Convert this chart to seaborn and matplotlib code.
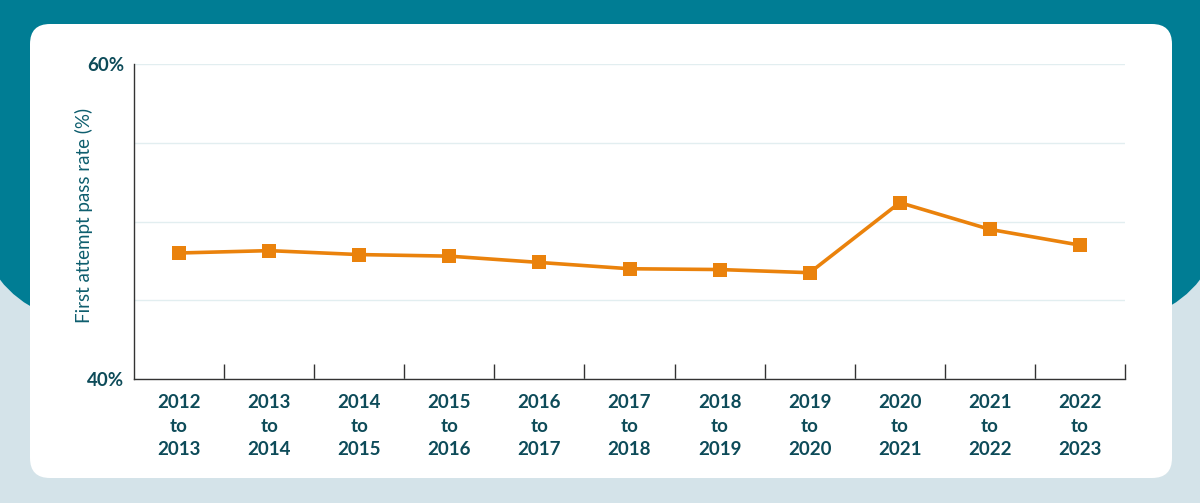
import matplotlib
matplotlib.use("Agg")
import matplotlib.pyplot as plt
from matplotlib.patches import FancyBboxPatch
import numpy as np
import pandas as pd
import seaborn as sns

# data
periods = ["2012\nto\n2013", "2013\nto\n2014", "2014\nto\n2015", "2015\nto\n2016",
           "2016\nto\n2017", "2017\nto\n2018", "2018\nto\n2019", "2019\nto\n2020",
           "2020\nto\n2021", "2021\nto\n2022", "2022\nto\n2023"]
pass_rate = [48.0, 48.15, 47.9, 47.8, 47.4, 47.0, 46.95, 46.75, 51.2, 49.5, 48.5]
y_ticks = [40, 45, 50, 55, 60]
y_ticklabels = ["40%", "", "", "", "60%"]

teal = "#007d94"
pale = "#d4e3e9"
orange = "#ea820c"
text_col = "#0d4b59"

sns.set_theme(style="white")
plt.rcParams["font.family"] = ["Lato", "DejaVu Sans"]

fig = plt.figure(figsize=(12, 5.03), dpi=100)
fig.patch.set_facecolor(pale)

# background: teal band with rounded bottom corners + white card
bg = fig.add_axes([0, 0, 1, 1], zorder=0)
bg.set_xlim(0, 1200)
bg.set_ylim(503, 0)
bg.axis("off")
bg.add_patch(FancyBboxPatch((-29, -300), 1258, 627, boxstyle="round,pad=0,rounding_size=150",
                            facecolor=teal, edgecolor="none"))
bg.add_patch(FancyBboxPatch((30, 24), 1142, 454, boxstyle="round,pad=0,rounding_size=20",
                            facecolor="white", edgecolor="none"))

ax = fig.add_axes([134 / 1200, 1 - 379 / 503, 991 / 1200, 315 / 503], zorder=1)
ax.patch.set_alpha(0)

df = pd.DataFrame({"pos": np.arange(len(periods)), "rate": pass_rate})
sns.lineplot(data=df, x="pos", y="rate", ax=ax, color=orange, linewidth=2.6,
             marker="s", markersize=9.5, markeredgewidth=0, zorder=3)

ax.set_xlim(-0.5, len(periods) - 0.5)
ax.set_ylim(40, 60)

# boundary ticks pointing up, labels at category centres
ax.set_xticks(np.arange(len(periods)) + 0.5)
ax.set_xticklabels([])
ax.tick_params(axis="x", which="major", direction="in", length=11, width=1, color="#333333", bottom=True)
ax.set_xticks(np.arange(len(periods)), minor=True)
ax.set_xticklabels(periods, minor=True, fontsize=13.5, fontweight="bold", color=text_col, linespacing=1.45)
ax.tick_params(axis="x", which="minor", length=0, pad=11)

ax.set_yticks(y_ticks)
ax.set_yticklabels(y_ticklabels, fontsize=13.5, fontweight="bold", color=text_col)
ax.tick_params(axis="y", length=0, pad=7)
ax.yaxis.grid(True, color="#e2eef0", linewidth=1)
ax.set_axisbelow(True)

ax.set_xlabel("")
ax.set_ylabel("First attempt pass rate (%)", fontsize=13.5, color="#0e5e6e")
ax.yaxis.set_label_coords(-0.041, 0.52)

for side in ["top", "right"]:
    ax.spines[side].set_visible(False)
for side in ["left", "bottom"]:
    ax.spines[side].set_color("#333333")
    ax.spines[side].set_linewidth(1)

fig.savefig("out.png", dpi=100, facecolor=fig.get_facecolor())
